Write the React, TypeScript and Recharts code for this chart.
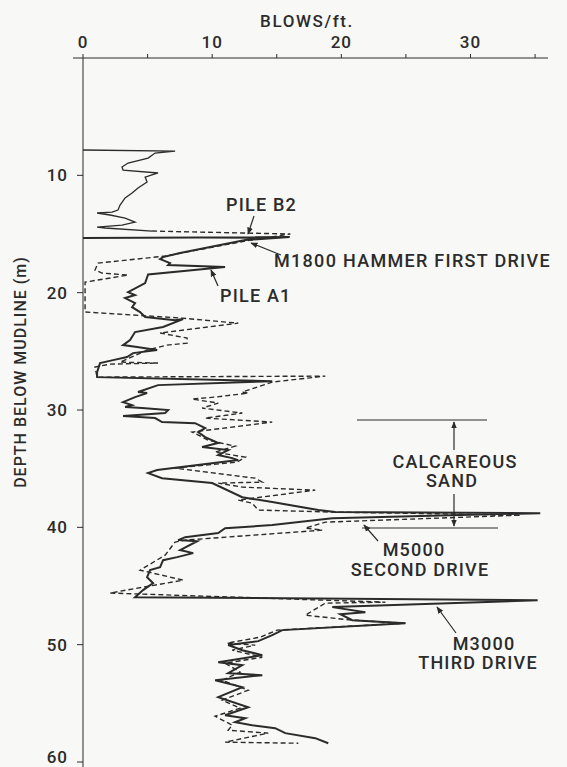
import React from "react";
import { LineChart, Line, XAxis, YAxis } from "recharts";

// Pile A1 (solid) – depth (m) and blows/ft
const a1Depth = [
  15.35, 15.26, 15.52, 16.37, 16.62, 16.97, 17.14, 17.48, 17.65, 17.82, 18.45, 19.18, 19.95, 20.2, 20.46, 20.89,
  21.23, 21.65, 22.08, 22.34, 22.25, 22.93, 23.36, 24.04, 24.47, 24.64, 24.89, 25.15, 25.49, 25.75, 26.0, 26.77,
  27.2, 27.54, 27.88, 28.47, 28.56, 28.9, 29.33, 29.58, 29.75, 29.84, 30.01, 30.26, 30.52, 30.69, 31.03, 31.12,
  31.54, 31.88, 32.31, 32.82, 33.16, 33.42, 33.84, 34.1, 34.27, 35.12, 35.38, 35.81, 36.23, 37.43, 37.85, 38.53,
  38.7, 38.79, 39.22, 39.81, 40.07, 40.49, 40.84, 41.09, 41.18, 41.94, 42.2, 42.54, 42.8, 43.39, 43.65, 44.25,
  44.76, 45.35, 45.95, 46.1, 46.21, 46.8, 47.23, 47.4, 47.91, 48.17, 48.76, 49.19, 49.7, 50.03, 50.47, 50.9,
  51.5, 51.75, 52.43, 52.6, 53.03, 53.62, 54.47, 55.33, 56.01, 56.27, 56.61, 56.86, 57.12, 57.54, 57.97, 58.4,
];
const a1Blows: (number | null)[] = [
  0, 16.0, 12.56, 8.68, 7.52, 6.2, 5.97, 6.74, 6.59, 11.0, 5.04, 4.81, 3.49, 4.03, 3.26, 4.03,
  3.8, 4.42, 4.81, 7.13, 7.75, 6.2, 4.03, 3.64, 3.1, 4.19, 5.74, 3.88, 3.41, 2.33, 1.32, 1.09,
  1.09, 14.65, 5.81, 4.26, 4.96, 4.03, 3.1, 3.8, 3.26, 4.57, 6.59, 6.36, 3.1, 5.58, 6.12, 8.68,
  9.46, 8.91, 9.46, 10.47, 9.22, 11.24, 10.47, 11.55, 12.02, 5.74, 5.04, 6.12, 10.0, 12.33, 14.65, 18.22,
  19.53, 35.4, 19.3, 14.65, 11.0, 10.47, 7.91, 7.36, 8.84, 7.52, 8.53, 7.29, 6.2, 5.97, 5.19, 4.96,
  5.43, 4.65, 4.03, null, 35.2, 19.3, 21.86, 19.92, 20.85, 24.96, 15.43, 14.65, 13.57, 11.24, 12.33, 13.88,
  10.47, 12.33, 11.24, 13.88, 10.23, 12.33, 10.47, 12.79, 11.0, 12.56, 11.78, 13.1, 14.88, 15.66, 17.98, 18.99,
];

// Pile B2, upper part (drawn as a thin continuous line)
const b2UpperDepth = [
  7.84, 7.93, 8.1, 8.53, 8.95, 9.29, 9.55, 9.8, 10.15, 10.57, 11.08, 11.51, 11.93, 12.53, 12.96, 13.13,
  13.21, 13.38, 13.64, 13.98, 14.24, 14.41, 14.49, 14.75,
];
const b2UpperBlows = [
  0, 7.13, 5.58, 5.04, 3.49, 3.02, 3.1, 5.81, 4.81, 4.96, 4.26, 3.8, 3.26, 2.87, 2.71, 2.25,
  1.09, 2.09, 3.26, 4.03, 3.02, 1.09, 1.71, 5.35,
];

// Pile B2 (dashed)
const b2Depth = [
  14.75, 15.0, 15.6, 16.88, 17.48, 18.07, 18.33, 18.5, 19.1, 21.65, 22.17, 22.6, 23.44, 23.87, 24.3, 24.47,
  24.89, 25.92, 26.0, 26.09, 26.34, 27.2, 27.11, 27.62, 28.47, 28.56, 28.9, 29.07, 29.41, 29.84, 30.26, 30.69,
  31.03, 31.88, 32.57, 33.08, 33.59, 34.02, 34.44, 34.95, 35.81, 36.15, 36.23, 36.57, 36.83, 37.68, 37.94, 38.53,
  38.7, 38.96, 39.56, 40.07, 40.24, 41.09, 41.26, 42.37, 43.65, 44.5, 45.6, 46.0, 46.38, 46.46, 47.49, 47.91,
  48.17, 48.76, 49.36, 49.87, 50.04, 50.47, 51.07, 51.58, 52.34, 53.03, 53.88, 54.73, 55.41, 56.1, 56.86, 57.29,
  57.54, 58.31, 58.4,
];
const b2Blows: (number | null)[] = [
  5.35, 16.05, 12.56, 6.36, 1.16, 0.93, 1.47, 3.49, 0.16, 0.16, 7.67, 12.02, 5.97, 8.06, 8.06, 6.51,
  4.96, 2.87, 5.81, 2.09, 0.93, 1.09, 18.76, 14.65, 12.33, 12.79, 10.23, 8.45, 10.47, 9.22, 12.33, 9.46,
  14.65, 8.45, 9.69, 11.78, 10.23, 12.56, 11.94, 7.13, 13.33, 13.88, 10.47, 12.33, 17.98, 12.02, 13.1, 13.57,
  19.38, 33.9, 18.76, 17.21, 18.53, 7.91, 7.13, 6.36, 4.42, 7.75, 2.09, null, 23.41, 18.76, 17.21, 20.85,
  24.96, 15.04, 13.72, 11.16, 13.33, 11.55, 13.88, 11.0, 12.17, 10.78, 12.79, 10.78, 12.17, 10.23, 11.55, 11.24,
  14.34, 11.0, 16.67,
];

const xTicks = [0, 5, 10, 15, 20, 25, 30, 35];
const xTickLabels = ["0", "", "10", "", "20", "", "30", ""];
const yTicks = [10, 20, 30, 40, 50, 60];

const toRows = (depth: number[], blows: (number | null)[]) =>
  depth.map((d, i) => ({ d, v: blows[i] }));

const a1Data = toRows(a1Depth, a1Blows);
const b2UpperData = toRows(b2UpperDepth, b2UpperBlows);
const b2Data = toRows(b2Depth, b2Blows);

const INK = "#2b2b2b";
const FONT = "Roboto, 'DejaVu Sans', sans-serif";

export default function App() {
  const txt = { fontFamily: FONT, fill: INK, fontSize: 18, fontWeight: 500, letterSpacing: 1.2 } as const;
  return (
    <div style={{ position: "absolute", left: 0, top: 0, width: 567, height: 767, background: "#f8f8f6" }}>
      <LineChart
        width={567}
        height={767}
        layout="vertical"
        margin={{ top: 28, right: 19, bottom: 5, left: 23 }}
      >
        <XAxis
          type="number"
          orientation="top"
          domain={[0, 36]}
          ticks={xTicks}
          tickFormatter={(v: number) => xTickLabels[xTicks.indexOf(v)] ?? ""}
          height={30}
          tickSize={4}
          tickMargin={6}
          allowDataOverflow
          stroke={INK}
          tick={{ fill: INK, fontSize: 17, fontFamily: FONT, fontWeight: 500, letterSpacing: 1 }}
        />
        <YAxis
          type="number"
          dataKey="d"
          domain={[0, 60]}
          ticks={yTicks}
          width={60}
          tickSize={6}
          tickMargin={9}
          allowDataOverflow
          stroke={INK}
          tick={{ fill: INK, fontSize: 17, fontFamily: FONT, fontWeight: 500, letterSpacing: 1 }}
        />
        <Line
          data={b2UpperData}
          dataKey="v"
          stroke={INK}
          strokeWidth={1.3}
          dot={false}
          isAnimationActive={false}
        />
        <Line
          data={b2Data}
          dataKey="v"
          stroke={INK}
          strokeWidth={1.4}
          strokeDasharray="5 3"
          dot={false}
          isAnimationActive={false}
        />
        <Line
          data={a1Data}
          dataKey="v"
          stroke={INK}
          strokeWidth={2}
          dot={false}
          isAnimationActive={false}
        />
      </LineChart>
      <svg
        width={567}
        height={767}
        style={{ position: "absolute", left: 0, top: 0, pointerEvents: "none" }}
      >
        <defs>
          <marker id="ah" viewBox="0 0 10 10" refX="9" refY="5" markerWidth="6" markerHeight="6" orient="auto">
            <path d="M0,1 L10,5 L0,9 z" fill={INK} />
          </marker>
        </defs>
        <text x={307} y={27} textAnchor="middle" {...txt} fontSize={17} letterSpacing={1.6}>BLOWS/ft.</text>
        <line x1={73} y1={58} x2={83} y2={58} stroke={INK} strokeWidth={1} />
        <line x1={83} y1={762} x2={83} y2={767} stroke={INK} strokeWidth={1} />
        <text
          x={20}
          y={372}
          transform="rotate(-90 20 372)"
          textAnchor="middle"
          dominantBaseline="central"
          {...txt}
          fontSize={16}
          letterSpacing={1}
        >
          DEPTH BELOW MUDLINE (m)
        </text>

        <text x={226} y={211} {...txt}>PILE B2</text>
        <line x1={254} y1={216} x2={248} y2={234} stroke={INK} strokeWidth={1.2} markerEnd="url(#ah)" />

        <text x={274} y={267} {...txt} letterSpacing={1.3}>M1800 HAMMER FIRST DRIVE</text>
        <line x1={281} y1={255} x2={251} y2={243} stroke={INK} strokeWidth={1.2} markerEnd="url(#ah)" />

        <text x={220} y={302} {...txt}>PILE A1</text>
        <line x1={218} y1={286} x2={211} y2={270} stroke={INK} strokeWidth={1.2} markerEnd="url(#ah)" />

        <line x1={357} y1={420} x2={487} y2={420} stroke={INK} strokeWidth={1} />
        <line x1={454} y1={450} x2={454} y2={422} stroke={INK} strokeWidth={1.2} markerEnd="url(#ah)" />
        <text x={455} y={468} textAnchor="middle" {...txt}>CALCAREOUS</text>
        <text x={452} y={487} textAnchor="middle" {...txt}>SAND</text>
        <line x1={454} y1={494} x2={454} y2={526} stroke={INK} strokeWidth={1.2} markerEnd="url(#ah)" />
        <line x1={362} y1={528} x2={498} y2={528} stroke={INK} strokeWidth={1} />

        <text x={414} y={556} textAnchor="middle" {...txt}>M5000</text>
        <text x={420} y={576} textAnchor="middle" {...txt}>SECOND DRIVE</text>
        <line x1={378} y1={541} x2={364} y2={525} stroke={INK} strokeWidth={1.2} markerEnd="url(#ah)" />

        <text x={484} y={650} textAnchor="middle" {...txt}>M3000</text>
        <text x={478} y={669} textAnchor="middle" {...txt}>THIRD DRIVE</text>
        <line x1={456} y1={633} x2={437} y2={607} stroke={INK} strokeWidth={1.2} markerEnd="url(#ah)" />
      </svg>
    </div>
  );
}
